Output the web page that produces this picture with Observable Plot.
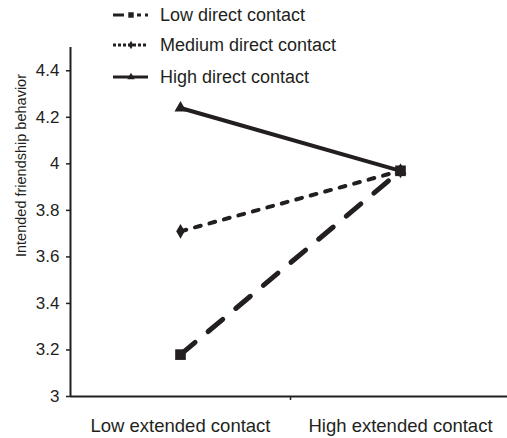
<!DOCTYPE html>
<html>
<head>
<meta charset="utf-8">
<script src="https://cdn.jsdelivr.net/npm/d3@7"></script>
<script src="https://cdn.jsdelivr.net/npm/@observablehq/plot@0.6"></script>
<style>
  html, body { margin: 0; padding: 0; background: #fff; }
  #chart svg { display: block; }
</style>
</head>
<body>
<div id="chart"></div>
<script>
// ---- Data ----
const extendedLevels = ["Low extended contact", "High extended contact"];
const seriesNames = ["Low direct contact", "Medium direct contact", "High direct contact"];
const lowDirect = [3.18, 3.97];
const mediumDirect = [3.71, 3.97];
const highDirect = [4.24, 3.97];
const yTicks = [3, 3.2, 3.4, 3.6, 3.8, 4, 4.2, 4.4];
const yLabel = "Intended friendship behavior";

const valuesBySeries = [lowDirect, mediumDirect, highDirect];
const rows = [];
seriesNames.forEach((s, si) => {
  valuesBySeries[si].forEach((v, i) => rows.push({series: s, level: extendedLevels[i], xi: i + 0.5, value: v}));
});
const ink = "#231f20";
const font = "'Liberation Sans', Arial, Helvetica, sans-serif";
const of = s => rows.filter(d => d.series === s);

const chart = Plot.plot({
  width: 507,
  height: 438,
  marginLeft: 70,
  marginRight: -3,
  marginTop: 47,
  marginBottom: 42,
  style: {fontFamily: font, fontSize: "17px", color: ink, background: "#fff"},
  x: {domain: [0, 2], axis: null},
  y: {domain: [3, 4.5], axis: null},
  symbol: {domain: seriesNames, range: ["square", "diamond", "triangle"]},
  marks: [
    Plot.axisY({ticks: yTicks, tickSize: 4, tickPadding: 7, tickFormat: d => String(+d.toFixed(1)), fontSize: 17, strokeWidth: 1.5, label: null}),
    Plot.axisX({ticks: [1], tickSize: 4, tickFormat: () => "", strokeWidth: 1.5, label: null}),
    Plot.axisX({ticks: [0.5, 1.5], tickSize: 0, tickPadding: 22, tickFormat: d => extendedLevels[Math.floor(d)], fontSize: 18.5, label: null}),
    Plot.ruleX([0], {strokeWidth: 2, stroke: ink}),
    Plot.ruleY([3], {strokeWidth: 2, stroke: ink}),
    Plot.text([yLabel], {frameAnchor: "top-left", dx: -55, dy: 118, rotate: -90, textAnchor: "middle", fontSize: 14.5, fill: ink}),
    Plot.line(of(seriesNames[2]), {x: "xi", y: "value", stroke: ink, strokeWidth: 4}),
    Plot.line(of(seriesNames[1]), {x: "xi", y: "value", stroke: ink, strokeWidth: 4, strokeDasharray: "6,9", strokeLinecap: "round"}),
    Plot.line(of(seriesNames[0]), {x: "xi", y: "value", stroke: ink, strokeWidth: 5, strokeDasharray: "19,17", strokeLinecap: "round"}),
    Plot.dot(rows.filter(d => d.series !== seriesNames[0]), {x: "xi", y: "value", symbol: "series", fill: ink, r: 4.5}),
    Plot.dot(of(seriesNames[0]), {x: "xi", y: "value", symbol: "series", fill: ink, r: 6})
  ]
});
document.getElementById("chart").appendChild(chart);

// ---- Legend (inside the plot area, top) ----
const svg = d3.select(chart);
const lg = svg.append("g").attr("text-anchor", "start");
const legendY = [15, 45, 77];
const dashes = ["11,5,4,4,4,4", "3,2", null];
const symbols = [d3.symbolSquare, d3.symbolDiamond, d3.symbolTriangle];
const symSizes = [30, 20, 24];
seriesNames.forEach((s, i) => {
  const y = legendY[i];
  const ln = lg.append("line").attr("x1", 113).attr("x2", 148).attr("y1", y).attr("y2", y)
    .attr("stroke", ink).attr("stroke-width", 3);
  if (dashes[i]) ln.attr("stroke-dasharray", dashes[i]);
  lg.append("path").attr("d", d3.symbol(symbols[i], symSizes[i])())
    .attr("transform", `translate(131,${y})`).attr("fill", ink);
  lg.append("text").attr("x", 160).attr("y", y).attr("dy", "0.35em").attr("text-anchor", "start")
    .attr("font-family", font).attr("font-size", 18).attr("fill", ink).text(s);
});
</script>
</body>
</html>
